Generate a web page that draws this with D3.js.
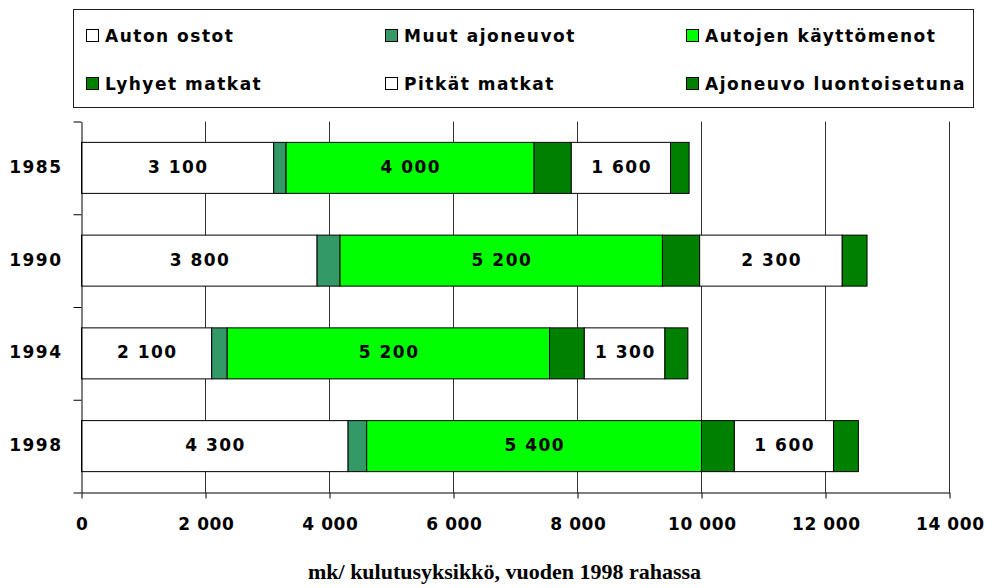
<!DOCTYPE html>
<html>
<head>
<meta charset="utf-8">
<script src="https://cdn.jsdelivr.net/npm/d3@7"></script>
<style>
  html, body { margin: 0; padding: 0; background: #fff; }
  svg { display: block; }
  .sans { font-family: "DejaVu Sans", Verdana, sans-serif; font-weight: bold; font-size: 17px; letter-spacing: 1.5px; fill: #000; }
  .tick-label { letter-spacing: 0.6px; }
</style>
</head>
<body>
<svg id="chart" width="986" height="588"></svg>
<script>
// Years shown on the vertical axis, top to bottom
const years = ["1985", "1990", "1994", "1998"];

// Household car-related spending per consumption unit (mk, 1998 money)
const autonOstot        = [3100, 3800, 2100, 4300];
const muutAjoneuvot     = [200, 370, 250, 300];
const autojenKaytto     = [4000, 5200, 5200, 5400];
const lyhyetMatkat      = [600, 600, 560, 530];
const pitkatMatkat      = [1600, 2300, 1300, 1600];
const ajoneuvoLuontois  = [300, 400, 370, 400];

const seriesNames = ["Auton ostot", "Muut ajoneuvot", "Autojen käyttömenot",
                     "Lyhyet matkat", "Pitkät matkat", "Ajoneuvo luontoisetuna"];
const seriesValues = [autonOstot, muutAjoneuvot, autojenKaytto,
                      lyhyetMatkat, pitkatMatkat, ajoneuvoLuontois];
const seriesColors = ["#ffffff", "#339966", "#00ff00", "#008000", "#ffffff", "#008000"];
// Segments that carry a value label
const labelled = new Set(["Auton ostot", "Autojen käyttömenot", "Pitkät matkat"]);

const xTicks = [0, 2000, 4000, 6000, 8000, 10000, 12000, 14000];
const axisTitle = "mk/ kulutusyksikkö, vuoden 1998 rahassa";

const fiLocale = d3.formatLocale({ decimal: ",", thousands: " ", grouping: [3], currency: ["", ""] });
const fmt = fiLocale.format(",");

const svg = d3.select("#chart");

const x = d3.scaleLinear().domain([0, 14000]).range([81.5, 949.5]);
const y = d3.scaleBand().domain(years).range([121.5, 492.5])
  .paddingInner(0.45).paddingOuter(0.225);

// rows for the stack
const rows = years.map((yr, i) => {
  const r = { year: yr };
  seriesNames.forEach((s, k) => { r[s] = seriesValues[k][i]; });
  return r;
});
const stacked = d3.stack().keys(seriesNames)(rows);

// vertical gridlines
svg.append("g")
  .selectAll("line")
  .data(xTicks.filter(d => d > 0))
  .join("line")
  .attr("x1", d => x(d)).attr("x2", d => x(d))
  .attr("y1", 121.5).attr("y2", 492.5)
  .attr("stroke", "#333").attr("stroke-width", 1);

// stacked bars
const layers = svg.append("g")
  .selectAll("g")
  .data(stacked)
  .join("g")
  .attr("fill", (d, i) => seriesColors[i]);

layers.selectAll("rect")
  .data(d => d)
  .join("rect")
  .attr("x", d => x(d[0]))
  .attr("width", d => x(d[1]) - x(d[0]))
  .attr("y", d => y(d.data.year))
  .attr("height", y.bandwidth())
  .attr("stroke", "#000")
  .attr("stroke-width", 1);

// value labels inside the labelled segments
const labelsG = svg.append("g");
stacked.forEach(layer => {
  if (!labelled.has(layer.key)) return;
  labelsG.selectAll(null)
    .data(layer)
    .join("text")
    .attr("class", "sans")
    .attr("text-anchor", "middle")
    .attr("x", d => (x(d[0]) + x(d[1])) / 2 + 0.75)
    .attr("y", d => y(d.data.year) + y.bandwidth() / 2 + 5)
    .text(d => fmt(d[1] - d[0]));
});

// y axis: category labels at band centres
const yAxisG = svg.append("g")
  .attr("transform", "translate(81.5,0)")
  .call(d3.axisLeft(y).tickSize(0).tickPadding(19));
yAxisG.attr("font-family", null).attr("font-size", null);
yAxisG.select(".domain").attr("stroke", "#000");
yAxisG.selectAll("text")
  .attr("class", "sans")
  .attr("dy", null)
  .attr("y", 5);

// y axis: boundary tick marks between the categories
const yEdge = d3.scaleLinear().domain([0, years.length]).range([121.5, 492.5]);
const yEdgeG = svg.append("g")
  .attr("transform", "translate(81.5,0)")
  .call(d3.axisLeft(yEdge).tickValues(d3.range(0, years.length + 1)).tickSize(8).tickFormat(""));
yEdgeG.select(".domain").remove();
yEdgeG.selectAll("line").attr("stroke", "#000");

// x axis
const xAxisG = svg.append("g")
  .attr("transform", "translate(0,492.5)")
  .call(d3.axisBottom(x).tickValues(xTicks).tickSize(6).tickSizeOuter(0).tickFormat(fmt));
xAxisG.attr("font-family", null).attr("font-size", null);
xAxisG.select(".domain").attr("stroke", "#000");
xAxisG.selectAll("line").attr("stroke", "#000");
xAxisG.selectAll("text")
  .attr("class", "sans tick-label")
  .attr("dy", null)
  .attr("y", 37)
  .attr("dx", 0.3);

// axis title
svg.append("text")
  .attr("x", 504.5).attr("y", 579)
  .attr("text-anchor", "middle")
  .style("font-family", "'Liberation Serif', 'Times New Roman', serif")
  .style("font-weight", "bold")
  .style("font-size", "22px")
  .text(axisTitle);

// legend
const legend = svg.append("g");
legend.append("rect")
  .attr("x", 73.5).attr("y", 9.5)
  .attr("width", 900).attr("height", 98)
  .attr("fill", "#fff").attr("stroke", "#222").attr("stroke-width", 1);

const colX = [86.5, 385.5, 686.5];
const rowY = [29.5, 77.5];
seriesNames.forEach((name, i) => {
  const cx = colX[i % 3], ry = rowY[Math.floor(i / 3)];
  const item = legend.append("g");
  item.append("rect")
    .attr("x", cx).attr("y", ry)
    .attr("width", 12).attr("height", 12)
    .attr("fill", seriesColors[i]).attr("stroke", "#000").attr("stroke-width", 1);
  item.append("text")
    .attr("class", "sans")
    .attr("x", cx + 18.5).attr("y", ry + 12.5)
    .text(name);
});
</script>
</body>
</html>
